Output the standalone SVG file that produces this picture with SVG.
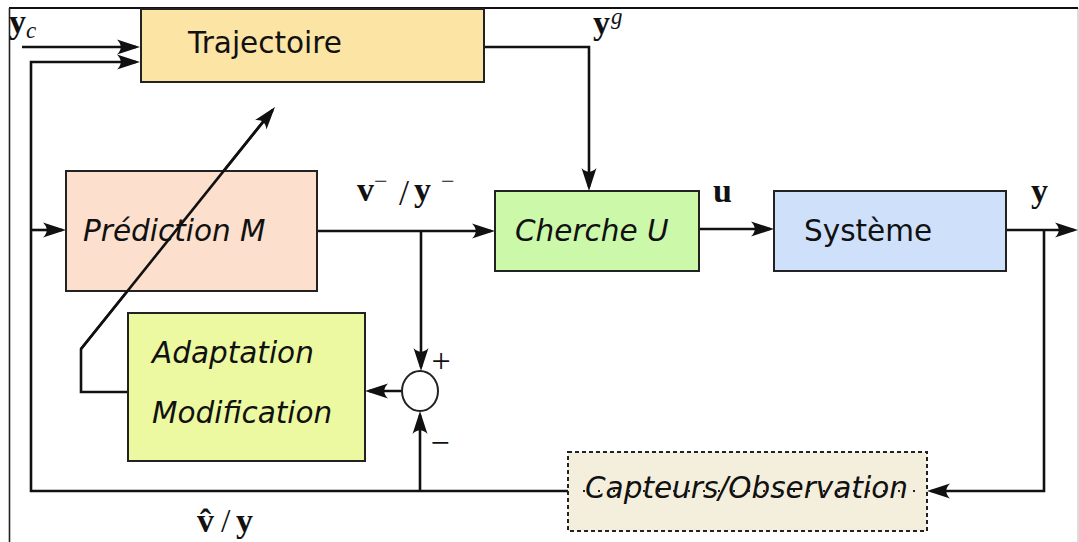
<svg xmlns="http://www.w3.org/2000/svg" width="1079" height="542" viewBox="0 0 1079 542">
<style>
.box{stroke:#222;stroke-width:2}
.lbl{font-family:"DejaVu Sans","Liberation Sans",sans-serif;font-size:29.5px;fill:#111}
.it{font-style:italic}
.m{font-family:"Liberation Serif","DejaVu Serif",serif;font-weight:bold;font-size:34px;fill:#111}
.mi{font-family:"Liberation Serif","DejaVu Serif",serif;font-style:italic;font-weight:normal;font-size:23px}
.mr{font-family:"Liberation Serif","DejaVu Serif",serif;font-weight:normal}
.c{fill:none;stroke:#111;stroke-width:2.6;stroke-linejoin:miter}
.a{marker-end:url(#ah)}
</style>
<defs>
<marker id="ah" markerUnits="userSpaceOnUse" viewBox="-22 -9 28 18" refX="0" refY="0" markerWidth="28" markerHeight="18" orient="auto">
<path d="M4,0 L-19,-7.5 C-14,-2.5 -14,2.5 -19,7.5 Z" fill="#111"/>
</marker>
</defs>
<rect width="1079" height="542" fill="#fff"/>
<g id="frame">
<line x1="1078" y1="8" x2="1078" y2="542" stroke="#d0d0d0" stroke-width="1.5"/>
<line x1="9" y1="8" x2="1078" y2="8" stroke="#111" stroke-width="2.2"/>
<line x1="9.5" y1="8" x2="9.5" y2="542" stroke="#222" stroke-width="1.6"/>
</g>
<g id="connectors">
<path class="c a" d="M22,47 H136"/>
<path class="c a" d="M568,491 H31 V62 H136"/>
<path class="c a" d="M31,230 H62"/>
<path class="c a" d="M420,491 V415"/>
<path class="c a" d="M484,47 H589 V187"/>
<path class="c a" d="M317,231 H491"/>
<path class="c a" d="M421,231 V367"/>
<path class="c a" d="M402,391 H369"/>
<path class="c a" d="M128,392 H81 V349 L272.5,110.1"/>
<path class="c a" d="M699,229 H770"/>
<path class="c a" d="M1006,230 H1074"/>
<path class="c a" d="M1044,230 V491 H931"/>
</g>
<g id="trajectoire">
<rect class="box" x="141" y="9" width="343" height="73" fill="#fce4a5"/>
<text class="lbl" x="188" y="53" font-size="29">Trajectoire</text>
</g>
<g id="prediction">
<rect class="box" x="66" y="171" width="251" height="120" fill="#fcdfcd"/>
<text class="lbl it" x="83" y="241">Prédiction M</text>
</g>
<g id="diag-over">
<path class="c" d="M81,349 L272.5,110.1"/>
</g>
<g id="cherche">
<rect class="box" x="495" y="191" width="204" height="80" fill="#ccf8aa"/>
<text class="lbl it" x="515" y="241">Cherche U</text>
</g>
<g id="systeme">
<rect class="box" x="774" y="191" width="232" height="80" fill="#cfe0fa"/>
<text class="lbl" x="804" y="241">Système</text>
</g>
<g id="adaptation">
<rect class="box" x="128" y="313" width="237" height="148" fill="#ecf9a0"/>
<text class="lbl it" x="152" y="363">Adaptation</text>
<text class="lbl it" x="152" y="423">Modification</text>
</g>
<g id="sum">
<ellipse cx="420" cy="391" rx="18" ry="20" fill="#fff" stroke="#222" stroke-width="2"/>
<text class="m mr" x="441" y="372" text-anchor="middle" font-size="32">+</text>
<text class="m mr" x="440" y="454" text-anchor="middle" font-size="32">−</text>
</g>
<g id="capteurs">
<rect x="568" y="452" width="359" height="79" fill="#f4efdc" stroke="#222" stroke-width="2" stroke-dasharray="4 3"/>
<text class="lbl it" x="585" y="498">Capteurs/Observation</text>
<path d="M583,491 H925" fill="none" stroke="#222" stroke-width="2" stroke-dasharray="2 13"/>
</g>
<g id="labels">
<text class="m" x="9" y="33">y<tspan class="mi" x="26" y="38">c</tspan></text>
<text class="m" x="593" y="34">y<tspan class="mi" x="611" y="24">g</tspan></text>
<text class="m" x="713" y="202">u</text>
<text class="m" x="1031" y="202">y</text>
<text class="m" x="357" y="201">v<tspan class="mr" font-size="24" x="374" y="189">−</tspan><tspan class="mr" font-size="36" x="399" y="205">/</tspan><tspan x="414" y="201">y</tspan><tspan class="mr" font-size="24" x="441" y="189">−</tspan></text>
<text class="m" x="197" y="532">v̂<tspan class="mr" x="221" y="532">/</tspan><tspan x="236" y="532">y</tspan></text>
</g>
</svg>
